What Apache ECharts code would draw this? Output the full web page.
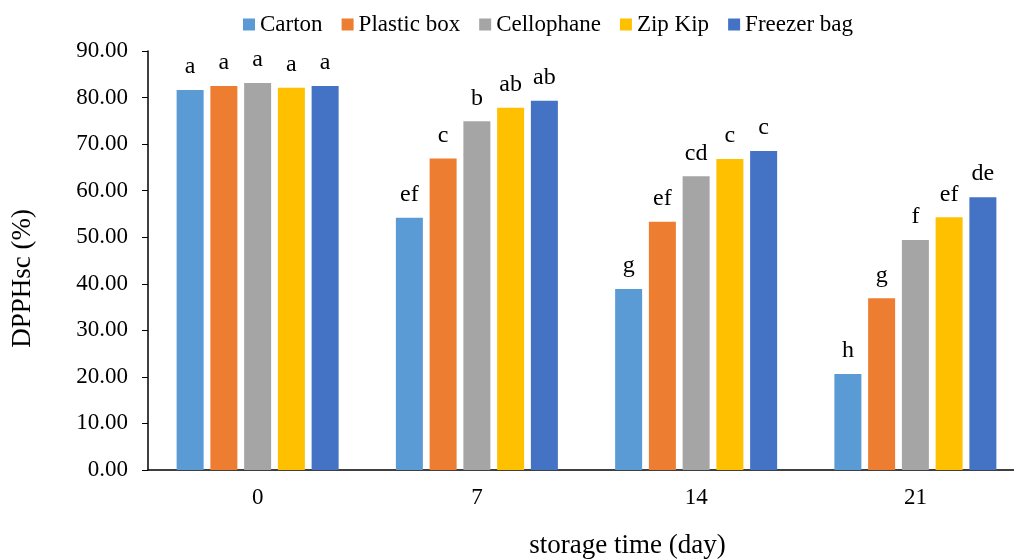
<!DOCTYPE html>
<html><head><meta charset="utf-8">
<script src="https://cdn.jsdelivr.net/npm/echarts@6/dist/echarts.min.js"></script>
<style>html,body{margin:0;padding:0;background:#fff}#c{width:1014px;height:560px}</style>
</head><body><div id="c"></div>
<script>
const categories = ['0', '7', '14', '21'];
const seriesNames = ['Carton', 'Plastic box', 'Cellophane', 'Zip Kip', 'Freezer bag'];
const carton = [81.6, 54.2, 38.9, 20.6];
const plasticBox = [82.5, 66.9, 53.3, 36.9];
const cellophane = [83.1, 74.9, 63.1, 49.4];
const zipKip = [82.1, 77.8, 66.8, 54.3];
const freezerBag = [82.5, 79.3, 68.5, 58.6];
const cartonLetters = ['a', 'ef', 'g', 'h'];
const plasticLetters = ['a', 'c', 'ef', 'g'];
const cellophaneLetters = ['a', 'b', 'cd', 'f'];
const zipLetters = ['a', 'ab', 'c', 'ef'];
const freezerLetters = ['a', 'ab', 'c', 'de'];
const colors = ['#5B9BD5', '#ED7D31', '#A5A5A5', '#FFC000', '#4472C4'];

const values = [carton, plasticBox, cellophane, zipKip, freezerBag];
const letters = [cartonLetters, plasticLetters, cellophaneLetters, zipLetters, freezerLetters];
const font = 'Liberation Serif, Times New Roman, serif';

const chart = echarts.init(document.getElementById('c'), null, {renderer: 'canvas'});
chart.setOption({
  animation: false,
  color: colors,
  textStyle: {fontFamily: font, color: '#000'},
  legend: {
    top: 8, left: 238,
    itemWidth: 12, itemHeight: 12, itemGap: 19,
    icon: 'rect',
    textStyle: {fontFamily: font, fontSize: 23, color: '#000'},
    data: seriesNames
  },
  grid: {left: 148, top: 51, width: 877, height: 419, containLabel: false, outerBoundsMode: 'none'},
  xAxis: {
    type: 'category', data: categories,
    axisLine: {lineStyle: {color: '#000', width: 1.5}},
    axisTick: {alignWithLabel: true, length: 6, lineStyle: {color: '#000'}},
    axisLabel: {fontFamily: font, fontSize: 23, color: '#000', margin: 16},
    name: 'storage time (day)', nameLocation: 'middle', nameGap: 62,
    nameTextStyle: {fontFamily: font, fontSize: 27, color: '#000', padding: [0, 0, 0, 82]}
  },
  yAxis: {
    type: 'value', min: 0, max: 90, interval: 10,
    splitLine: {show: false},
    axisLine: {show: true, lineStyle: {color: '#000', width: 1.5}},
    axisTick: {show: true, length: 6, lineStyle: {color: '#000'}},
    axisLabel: {fontFamily: font, fontSize: 23, color: '#000', margin: 20, formatter: v => v.toFixed(2)},
    name: 'DPPHsc (%)', nameLocation: 'middle', nameGap: 112, nameRotate: 90,
    nameTextStyle: {fontFamily: font, fontSize: 27, color: '#000', padding: [0, 36, 0, 0]}
  },
  series: seriesNames.map((n, i) => ({
    name: n, type: 'bar', data: values[i],
    barWidth: 27, barGap: '25%',
    itemStyle: {color: colors[i]},
    label: {
      show: true, position: 'top', distance: 11,
      fontFamily: font, fontSize: 24, color: '#000',
      formatter: p => letters[i][p.dataIndex]
    }
  }))
});
</script></body></html>
